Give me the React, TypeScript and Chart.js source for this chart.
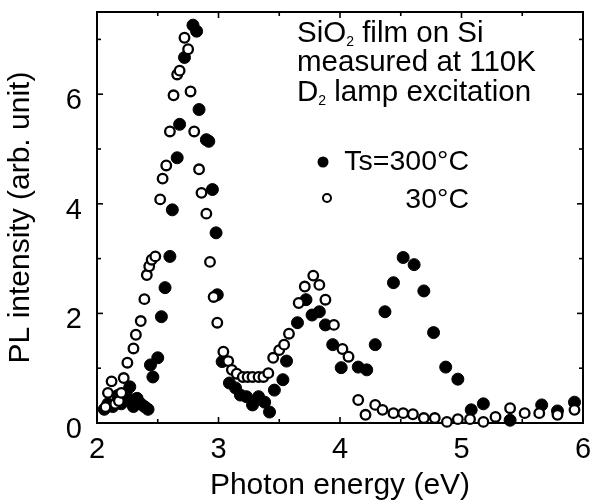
import React, { useEffect, useRef } from "react";
import { Chart, registerables } from "chart.js";

Chart.register(...registerables);

// Ts = 300°C (filled circles)
const hotX = [
  2.06, 2.09, 2.13, 2.17, 2.20, 2.24, 2.27, 2.27, 2.30, 2.33, 2.36, 2.39, 2.42,
  2.44, 2.46, 2.50, 2.53, 2.56, 2.60, 2.62, 2.66, 2.68, 2.72, 2.79, 2.82, 2.84,
  2.90, 2.92, 2.95, 2.98, 2.99, 3.03, 3.09, 3.14, 3.18, 3.23, 3.28, 3.33, 3.38,
  3.42, 3.46, 3.53, 3.56, 3.65, 3.72, 3.77, 3.83, 3.88, 3.94, 4.01, 4.15, 4.22,
  4.29, 4.37, 4.44, 4.52, 4.61, 4.69, 4.77, 4.87, 4.97, 5.08, 5.18, 5.40, 5.66,
  5.79, 5.93,
];
const hotY = [
  0.25, 0.35, 0.30, 0.50, 0.35, 0.55, 0.40, 0.66, 0.30, 0.45, 0.35, 0.30, 0.25,
  1.06, 0.84, 1.19, 1.94, 2.47, 3.04, 3.89, 4.84, 5.45, 6.67, 7.26, 7.15, 5.72,
  5.17, 5.14, 4.26, 3.47, 2.34, 1.12, 0.73, 0.64, 0.51, 0.48, 0.33, 0.48, 0.38,
  0.20, 0.60, 0.79, 1.13, 1.83, 2.25, 1.97, 2.03, 1.79, 1.43, 1.01, 1.02, 0.97,
  1.43, 2.03, 2.56, 3.02, 2.89, 2.41, 1.65, 1.02, 0.80, 0.24, 0.35, 0.05, 0.33,
  0.22, 0.38,
];

// Ts = 30°C (open circles)
const coldX = [
  2.07, 2.09, 2.12, 2.15, 2.18, 2.20, 2.22, 2.25, 2.30, 2.32, 2.36, 2.39, 2.41,
  2.43, 2.45, 2.48, 2.52, 2.54, 2.57, 2.60, 2.63, 2.66, 2.68, 2.72, 2.75, 2.77,
  2.80, 2.84, 2.86, 2.90, 2.93, 2.96, 2.99, 3.04, 3.08, 3.11, 3.15, 3.20, 3.24,
  3.28, 3.33, 3.37, 3.41, 3.45, 3.50, 3.54, 3.58, 3.66, 3.71, 3.78, 3.83, 3.88,
  3.95, 4.02, 4.07, 4.15, 4.21, 4.29, 4.35, 4.44, 4.52, 4.60, 4.69, 4.78, 4.88,
  4.97, 5.07, 5.18, 5.28, 5.40, 5.52, 5.64, 5.79, 5.93,
];
const coldY = [
  0.29, 0.55, 0.76, 0.35, 0.40, 0.55, 0.82, 1.10, 1.36, 1.61, 1.86, 2.26, 2.70,
  2.86, 2.98, 3.04, 4.08, 4.46, 4.70, 5.32, 5.98, 6.36, 6.43, 7.03, 6.82, 6.05,
  5.32, 4.63, 4.20, 3.82, 2.94, 2.30, 1.83, 1.30, 1.13, 0.97, 0.90, 0.84, 0.84,
  0.84, 0.84, 0.84, 0.91, 1.19, 1.33, 1.43, 1.63, 2.19, 2.49, 2.69, 2.52, 2.25,
  1.79, 1.35, 1.21, 0.42, 0.15, 0.33, 0.24, 0.18, 0.18, 0.16, 0.09, 0.09, 0.02,
  0.07, 0.07, 0.02, 0.11, 0.27, 0.18, 0.18, 0.15, 0.24,
];

const xTickValues = [2, 3, 4, 5, 6];
const xMinorValues = [2.5, 3.5, 4.5, 5.5];
const yTickValues = [0, 2, 4, 6];
const yMinorValues = [1, 3, 5, 7];

const xTitle = "Photon energy (eV)";
const yTitle = "PL intensity (arb. unit)";
const hotLabel = "Ts=300°C";
const coldLabel = "30°C";

const FONT = "'Liberation Sans', Arial, Helvetica, sans-serif";

const framePlugin = {
  id: "frame",
  beforeDatasetsDraw(chart: any) {
    const { ctx, chartArea, scales } = chart;
    const { left, right, top, bottom } = chartArea;
    const xs = scales.x;
    const ys = scales.y;
    ctx.save();
    ctx.strokeStyle = "#000";
    ctx.lineWidth = 2;
    ctx.strokeRect(left, top, right - left, bottom - top);
    ctx.lineWidth = 1.6;
    const seg = (x1: number, y1: number, x2: number, y2: number) => {
      ctx.beginPath();
      ctx.moveTo(x1, y1);
      ctx.lineTo(x2, y2);
      ctx.stroke();
    };
    const doX = (vals: number[], len: number) => {
      vals.forEach((v) => {
        const p = xs.getPixelForValue(v);
        seg(p, bottom, p, bottom - len);
        seg(p, top, p, top + len);
      });
    };
    const doY = (vals: number[], len: number) => {
      vals.forEach((v) => {
        const p = ys.getPixelForValue(v);
        seg(left, p, left + len, p);
        seg(right, p, right - len, p);
      });
    };
    doX(xTickValues, 6);
    doX(xMinorValues, 4);
    doY(yTickValues, 6);
    doY(yMinorValues, 4);
    ctx.restore();
  },
};

const textPlugin = {
  id: "annot",
  afterDraw(chart: any) {
    const { ctx } = chart;
    ctx.save();
    ctx.fillStyle = "#000";
    ctx.textBaseline = "alphabetic";
    ctx.textAlign = "left";
    const big = `29.5px ${FONT}`;
    const small = `14px ${FONT}`;
    const run = (parts: [string, boolean][], x: number, y: number) => {
      let cx = x;
      parts.forEach(([t, sub]) => {
        ctx.font = sub ? small : big;
        ctx.fillText(t, cx, sub ? y + 4 : y);
        cx += ctx.measureText(t).width;
      });
    };
    run([["SiO", false], ["2", true], [" film on Si", false]], 297, 42);
    run([["measured at 110K", false]], 297, 71);
    run([["D", false], ["2", true], [" lamp excitation", false]], 297, 101);

    // legend
    ctx.font = `28.5px ${FONT}`;
    ctx.textAlign = "right";
    ctx.fillText(hotLabel, 469, 170);
    ctx.fillText(coldLabel, 469, 208);
    ctx.beginPath();
    ctx.arc(323, 162, 5.5, 0, Math.PI * 2);
    ctx.fill();
    ctx.beginPath();
    ctx.lineWidth = 2;
    ctx.strokeStyle = "#000";
    ctx.arc(327, 198, 4, 0, Math.PI * 2);
    ctx.stroke();
    ctx.restore();
  },
};

export default function App() {
  const ref = useRef<HTMLCanvasElement | null>(null);

  useEffect(() => {
    document.body.style.margin = "0";
    const canvas = ref.current;
    if (!canvas) return;
    const hot = hotX.map((x, i) => ({ x, y: hotY[i] }));
    const cold = coldX.map((x, i) => ({ x, y: coldY[i] }));
    const chart = new Chart(canvas, {
      type: "scatter",
      data: {
        datasets: [
          {
            label: coldLabel,
            data: cold,
            backgroundColor: "#fff",
            borderColor: "#000",
            pointRadius: 4.8,
            borderWidth: 2.3,
            clip: false,
          },
          {
            label: hotLabel,
            data: hot,
            backgroundColor: "#000",
            borderColor: "#000",
            pointRadius: 6,
            borderWidth: 1,
            clip: false,
          },
        ],
      },
      options: {
        animation: false,
        responsive: false,
        devicePixelRatio: 1,
        layout: { padding: { left: 0, top: 12, right: 10, bottom: 0 } },
        plugins: { legend: { display: false }, tooltip: { enabled: false } },
        scales: {
          x: {
            type: "linear",
            min: 2,
            max: 6,
            grid: { display: false, drawTicks: false },
            border: { display: false },
            afterBuildTicks: (s: any) => {
              s.ticks = xTickValues.map((v) => ({ value: v }));
            },
            afterFit: (s: any) => {
              s.height = 81;
              s.paddingLeft = 0;
              s.paddingRight = 0;
              s.paddingTop = 0;
              s.paddingBottom = 0;
            },
            ticks: {
              color: "#000",
              padding: 10,
              font: { family: FONT, size: 29 },
              maxRotation: 0,
            },
            title: {
              display: true,
              text: xTitle,
              color: "#000",
              font: { family: FONT, size: 30 },
              padding: { top: 0, bottom: 0 },
            },
          },
          y: {
            type: "linear",
            min: 0,
            max: 7.5,
            grid: { display: false, drawTicks: false },
            border: { display: false },
            afterBuildTicks: (s: any) => {
              s.ticks = yTickValues.map((v) => ({ value: v }));
            },
            afterFit: (s: any) => {
              s.width = 97;
              s.paddingLeft = 0;
              s.paddingRight = 0;
              s.paddingTop = 0;
              s.paddingBottom = 0;
            },
            ticks: {
              color: "#000",
              padding: 15,
              labelOffset: 7,
              font: { family: FONT, size: 29 },
            },
            title: {
              display: true,
              text: yTitle,
              color: "#000",
              font: { family: FONT, size: 30 },
              padding: { top: 3, bottom: 0 },
            },
          },
        },
      },
      plugins: [framePlugin, textPlugin],
    });
    return () => chart.destroy();
  }, []);

  return (
    <div style={{ width: 593, height: 504 }}>
      <canvas ref={ref} width={593} height={504} style={{ display: "block" }} />
    </div>
  );
}
